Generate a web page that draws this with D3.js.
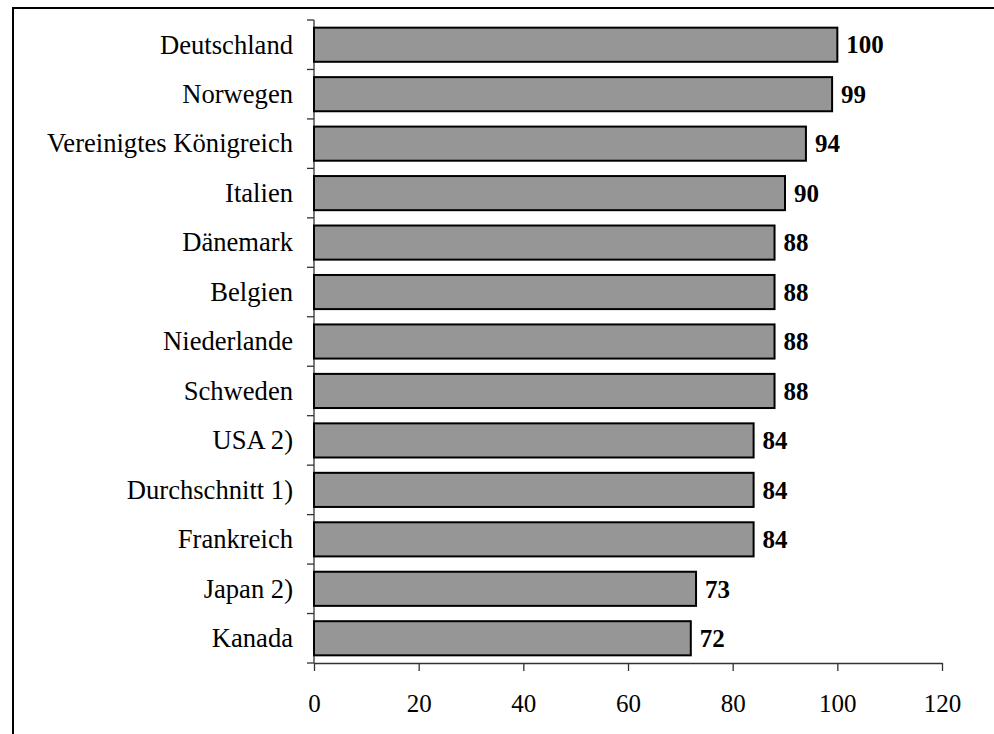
<!DOCTYPE html>
<html>
<head>
<meta charset="utf-8">
<script src="https://cdn.jsdelivr.net/npm/d3@7"></script>
<style>
body { margin: 0; background: #fff; }
</style>
</head>
<body>
<div id="main"></div>
<script>
// data
var countries = ["Deutschland", "Norwegen", "Vereinigtes Königreich", "Italien", "Dänemark",
    "Belgien", "Niederlande", "Schweden", "USA 2)", "Durchschnitt 1)", "Frankreich", "Japan 2)", "Kanada"];
var values = [100, 99, 94, 90, 88, 88, 88, 88, 84, 84, 84, 73, 72];
var xTicks = [0, 20, 40, 60, 80, 100, 120];

var width = 994;
var height = 734;
var mLeft = 314, mRight = 942, mTop = 20, mBottom = 663;

var svg = d3.select("#main").append("svg")
    .attr("width", width)
    .attr("height", height);

// frame
svg.append("path")
    .attr("d", "M13," + (height + 5) + "V8H" + (width + 5))
    .attr("fill", "none")
    .attr("stroke", "#000")
    .attr("stroke-width", 2);

var x = d3.scaleLinear().domain([0, 120]).range([mLeft, mRight]);
var y = d3.scaleBand().domain(countries).range([mTop, mBottom]).paddingInner(0.31).paddingOuter(0.155);

// y axis line + ticks at category boundaries
var step = y.step();
svg.append("line")
    .attr("x1", mLeft).attr("x2", mLeft)
    .attr("y1", mTop).attr("y2", mBottom)
    .attr("stroke", "#333").attr("stroke-width", 1.3);
for (var i = 0; i <= countries.length; i++) {
    svg.append("line")
        .attr("x1", mLeft - 7).attr("x2", mLeft)
        .attr("y1", mTop + i * step).attr("y2", mTop + i * step)
        .attr("stroke", "#333").attr("stroke-width", 1.3);
}

// x axis
var xAxis = svg.append("g")
    .attr("transform", "translate(0," + mBottom + ")")
    .call(d3.axisBottom(x).tickValues(xTicks).tickSize(8).tickPadding(23).tickSizeOuter(0));
xAxis.select(".domain").attr("stroke", "#333").attr("stroke-width", 1.3);
xAxis.selectAll(".tick line").attr("stroke", "#333").attr("stroke-width", 1.3);
xAxis.selectAll("text")
    .attr("font-family", "'Liberation Serif', 'Times New Roman', serif")
    .attr("font-size", "25px")
    .attr("fill", "#000");

// bars
svg.selectAll(".bar")
    .data(countries)
    .enter().append("rect")
    .attr("class", "bar")
    .attr("x", x(0))
    .attr("y", function(d) { return y(d); })
    .attr("width", function(d, i) { return x(values[i]) - x(0); })
    .attr("height", y.bandwidth())
    .attr("fill", "#969696")
    .attr("stroke", "#000")
    .attr("stroke-width", 2);

// category labels
svg.selectAll(".cat")
    .data(countries)
    .enter().append("text")
    .attr("class", "cat")
    .text(function(d) { return d; })
    .attr("x", mLeft - 21)
    .attr("y", function(d) { return y(d) + y.bandwidth() / 2; })
    .attr("dy", "0.33em")
    .attr("text-anchor", "end")
    .attr("font-family", "'Liberation Serif', 'Times New Roman', serif")
    .attr("font-size", "26.6px")
    .attr("fill", "#000");

// value labels
svg.selectAll(".val")
    .data(countries)
    .enter().append("text")
    .attr("class", "val")
    .text(function(d, i) { return values[i]; })
    .attr("x", function(d, i) { return x(values[i]) + 9; })
    .attr("y", function(d) { return y(d) + y.bandwidth() / 2; })
    .attr("dy", "0.35em")
    .attr("font-family", "'Liberation Serif', 'Times New Roman', serif")
    .attr("font-weight", "bold")
    .attr("font-size", "25px")
    .attr("fill", "#000");
</script>
</body>
</html>
